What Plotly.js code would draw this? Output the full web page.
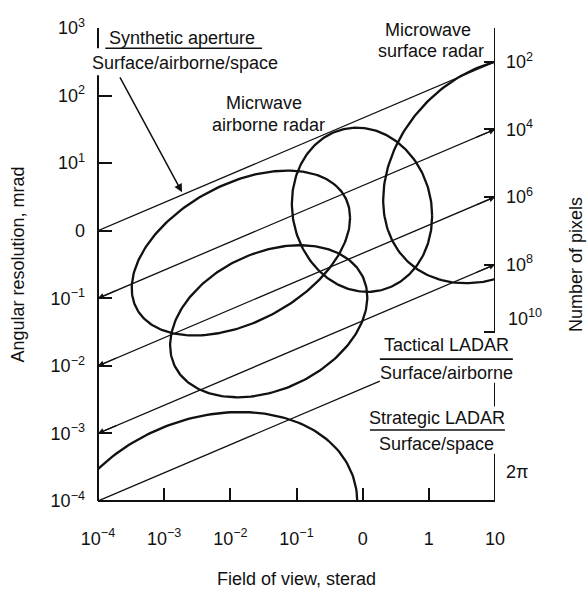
<!DOCTYPE html>
<html>
<head>
<meta charset="utf-8">
<script src="https://cdn.plot.ly/plotly-3.0.1.min.js"></script>
<style>html,body{margin:0;padding:0;background:#fff;}</style>
</head>
<body>
<div id="chart" style="width:588px;height:590px;"></div>
<script>
// ---- axis ticks (decade positions on log scales) ----
const fovTicks = [-4, -3, -2, -1, 0, 1, 2];
const fovTickText = ['10<sup>−4</sup>', '10<sup>−3</sup>', '10<sup>−2</sup>', '10<sup>−1</sup>', '0', '1', '10'];
const resTicks = [-4, -3, -2, -1, 0, 1, 2, 3];
const resTickText = ['10<sup>−4</sup>', '10<sup>−3</sup>', '10<sup>−2</sup>', '10<sup>−1</sup>', '0', '10<sup>1</sup>', '10<sup>2</sup>', '10<sup>3</sup>'];
const pixelTicks = [2, 4, 6, 8, 10];
const pixelTickText = ['10<sup>2</sup>', '10<sup>4</sup>', '10<sup>6</sup>', '10<sup>8</sup>', ''];

// ---- constant pixel-count lines ----
// resolution exponent at the left edge, pixel-count exponent at the right edge
const lineStartRes = [0, -1, -2, -3, -4];
const linePixels = [2, 4, 6, 8, 10];
const lineEndFov = [2, 2, 2, 2, 0.26];

// ---- sensor regions (ellipses, in decades) ----
const regionNames = ['Synthetic aperture', 'Tactical LADAR', 'Microwave airborne radar', 'Microwave surface radar', 'Strategic LADAR'];
const regionCx    = [-1.84, -1.42, -0.01, 2.00, -2.35];
const regionCy    = [-0.33, -1.34,  0.31, 0.89, -4.41];
const regionHalfW = [ 1.65,  1.49,  1.06, 1.69,  2.27];
const regionHalfH = [ 1.22,  1.125, 1.215, 1.667, 1.727];
const regionSkew  = [ 0.52,  0.355, -0.09, 0.434, 0.38];

// right-hand spine pieces (pixel-count exponent), broken around the labels
const pixelSpine = [[0.9, 10], [11.5, 12.2], [13.6, 15]];

const XR = [-4, 2];
const YR = [-4, 3];
const PR = [15, 1];           // pixel-count exponent range on the right axis
const INK = '#111';
const FONT = 'Arial, "Liberation Sans", sans-serif';
const FS = 18;

// map pixel-count exponent onto the resolution axis units
function pixToRes(p) { return YR[0] + (p - PR[0]) * (YR[1] - YR[0]) / (PR[1] - PR[0]); }
function paperX(x) { return (x - XR[0]) / (XR[1] - XR[0]); }
function paperY(y) { return (y - YR[0]) / (YR[1] - YR[0]); }

const traces = [];

// pixel-count lines
const lineEnds = [];
lineStartRes.forEach((r0, i) => {
  const r1 = pixToRes(linePixels[i]);
  const xe = lineEndFov[i];
  const ye = r0 + (r1 - r0) * (xe - XR[0]) / (XR[1] - XR[0]);
  lineEnds.push({x0: XR[0], y0: r0, x1: xe, y1: ye});
  traces.push({
    type: 'scatter', mode: 'lines', x: [XR[0], xe], y: [r0, ye],
    line: {color: INK, width: 1.3}, hoverinfo: 'skip', showlegend: false
  });
});

// sensor regions
regionNames.forEach((name, i) => {
  const xs = [], ys = [];
  const W = regionHalfW[i], H = regionHalfH[i], k = regionSkew[i];
  const E = Math.sqrt(H * H - k * k);
  for (let j = 0; j <= 240; j++) {
    const t = 2 * Math.PI * j / 240;
    xs.push(regionCx[i] + W * Math.cos(t));
    ys.push(regionCy[i] + k * Math.cos(t) + E * Math.sin(t));
  }
  traces.push({
    type: 'scatter', mode: 'lines', name: name, x: xs, y: ys,
    line: {color: INK, width: 2.3}, hoverinfo: 'skip', showlegend: false
  });
});

// right-hand spine on the pixel-count axis
const spineX = [], spineY = [];
pixelSpine.forEach(s => { spineX.push(XR[1], XR[1], null); spineY.push(s[0], s[1], null); });
traces.push({
  type: 'scatter', mode: 'lines', x: spineX, y: spineY, yaxis: 'y2', cliponaxis: false,
  line: {color: INK, width: 2}, hoverinfo: 'skip', showlegend: false
});

// ---- axis line segments ----
function seg(x0, y0, x1, y1, w) {
  return {type: 'line', xref: 'paper', yref: 'paper', x0: x0, y0: y0, x1: x1, y1: y1,
          line: {color: INK, width: w || 2}};
}
const shapes = [
  seg(0, 0, 1, 0),                                   // bottom
  seg(0, 0, 0, paperY(2.30)),                        // left
  seg(0, paperY(2.70), 0, 1.0),                      // left bracket
  // label rules
  seg(paperX(-3.89), paperY(2.70), paperX(-1.52), paperY(2.70), 1.6),
  seg(paperX(0.26), paperY(-1.90), paperX(2.27), paperY(-1.90), 1.6),
  seg(paperX(0.11), paperY(-2.95), paperX(2.15), paperY(-2.95), 1.6)
];

// ---- text labels ----
function label(text, x, y) {
  return {text: text, xref: 'paper', yref: 'paper', x: paperX(x), y: paperY(y),
    showarrow: false, xanchor: 'center', yanchor: 'middle',
    font: {family: FONT, size: FS, color: INK}};
}
const annotations = [
  label('Synthetic aperture', -2.73, 2.85),
  label('Surface/airborne/space', -2.69, 2.48),
  label('Micrwave', -1.49, 1.89),
  label('airborne radar', -1.43, 1.565),
  label('Microwave', 0.99, 2.97),
  label('surface radar', 1.03, 2.66),
  label('Tactical LADAR', 1.27, -1.69),
  label('Surface/airborne', 1.27, -2.11),
  label('Strategic LADAR', 1.12, -2.77),
  label('Surface/space', 1.11, -3.16),
  label('2π', 2.34, -3.57),
  label('10<sup>10</sup>', 2.46, -1.29),
  // pointer to the synthetic-aperture line
  {x: -2.73, y: 0.57, ax: -3.68, ay: 2.29, xref: 'x', yref: 'y', axref: 'x', ayref: 'y',
   text: '', showarrow: true, arrowhead: 2, arrowsize: 1.1, arrowwidth: 1.5, arrowcolor: INK, standoff: 0}
];
// arrowheads where the pixel-count lines meet the axes
[1, 2, 3].forEach(i => {
  const L = lineEnds[i];
  const dx = 0.3, dy = (L.y1 - L.y0) / (L.x1 - L.x0) * dx;
  annotations.push({x: L.x0, y: L.y0, ax: L.x0 + dx, ay: L.y0 + dy, xref: 'x', yref: 'y', axref: 'x', ayref: 'y',
    text: '', showarrow: true, arrowhead: 2, arrowsize: 1, arrowwidth: 1.2, arrowcolor: INK, standoff: 0});
  annotations.push({x: L.x1, y: L.y1, ax: L.x1 - dx, ay: L.y1 - dy, xref: 'x', yref: 'y', axref: 'x', ayref: 'y',
    text: '', showarrow: true, arrowhead: 2, arrowsize: 1, arrowwidth: 1.2, arrowcolor: INK, standoff: 0});
});

const tickFont = {family: FONT, size: FS, color: INK};
const titleFont = {family: FONT, size: FS, color: INK};
const layout = {
  width: 588, height: 590,
  margin: {l: 98, r: 93, t: 28, b: 89},
  paper_bgcolor: '#fff', plot_bgcolor: 'rgba(0,0,0,0)',
  showlegend: false,
  font: {family: FONT, color: INK},
  xaxis: {
    range: XR, tickvals: fovTicks, ticktext: fovTickText, tickfont: tickFont,
    ticks: 'inside', ticklen: 13, tickwidth: 2, tickcolor: INK,
    showline: false, showgrid: false, zeroline: false, ticklabelstandoff: 25,
    title: {text: 'Field of view, sterad', font: titleFont, standoff: 24}
  },
  yaxis: {
    range: YR, tickvals: resTicks, ticktext: resTickText, tickfont: tickFont,
    ticks: 'inside', ticklen: 14, tickwidth: 2, tickcolor: INK,
    showline: false, showgrid: false, zeroline: false, ticklabelstandoff: 12,
    title: {text: 'Angular resolution, mrad', font: titleFont, standoff: 21}
  },
  yaxis2: {
    overlaying: 'y', side: 'right', range: PR,
    tickvals: pixelTicks, ticktext: pixelTickText, tickfont: tickFont,
    ticks: 'inside', ticklen: 11, tickwidth: 2, tickcolor: INK,
    showline: false, showgrid: false, zeroline: false, ticklabelstandoff: 10,
    title: {text: 'Number of pixels', font: titleFont, standoff: 37}
  },
  shapes: shapes,
  annotations: annotations
};

Plotly.newPlot('chart', traces, layout, {staticPlot: true, displayModeBar: false});
</script>
</body>
</html>
